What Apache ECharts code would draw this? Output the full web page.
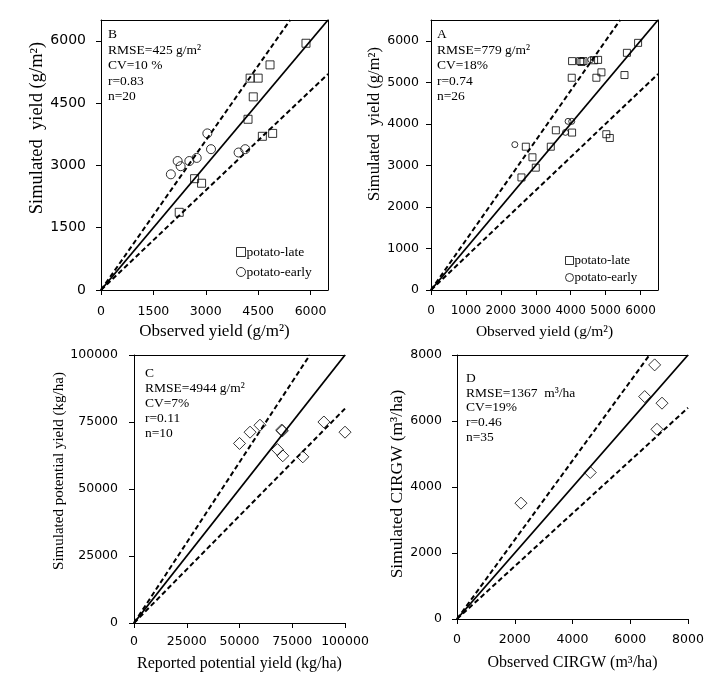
<!DOCTYPE html>
<html>
<head>
<meta charset="utf-8">
<script src="https://cdn.jsdelivr.net/npm/echarts@6/dist/echarts.min.js"></script>
<style>html,body{margin:0;padding:0;background:#fff;}#c{width:727px;height:678px;}</style>
</head>
<body>
<div id="c"></div>
<script>
// ---- Panel B ----
const bLateObs = [5870, 4840, 4270, 4500, 4360, 4210, 4915, 4620, 2680, 2880, 2240];
const bLateSim = [5940, 5420, 5100, 5100, 4650, 4110, 3770, 3700, 2680, 2570, 1870];
const bEarlyObs = [3045, 3150, 3940, 4130, 2740, 2530, 2195, 2280, 2000];
const bEarlySim = [3770, 3390, 3310, 3390, 3180, 3105, 3105, 2980, 2785];
// ---- Panel A ----
const aLateObs = [5930, 5610, 5540, 4880, 4735, 4030, 4040, 4270, 4310, 4365, 4670, 4785, 3575, 4040, 5020, 5120, 3430, 2715, 2905, 3000, 2590];
const aLateSim = [5950, 5710, 5175, 5240, 5110, 5110, 5510, 5510, 5490, 5510, 5530, 5540, 3845, 3790, 3750, 3660, 3450, 3450, 3195, 2945, 2710];
const aEarlyObs = [2400, 3850, 3925, 4030, 4575];
const aEarlySim = [3500, 3795, 4060, 4060, 5545];
// ---- Panel C ----
const cObs = [50000, 55000, 59700, 70000, 70300, 68000, 70500, 80000, 90000, 100000];
const cSim = [67000, 71200, 73800, 72000, 71700, 64700, 62400, 62000, 75000, 71200];
// ---- Panel D ----
const dObs = [6845, 6500, 7100, 6925, 4615, 2215];
const dSim = [7700, 6740, 6540, 5750, 4440, 3510];
// ---- reference lines (1:1 and ±20%) ----
const abLine11 = [[0, 0], [6500, 6500]];
const abUpper = [[0, 0], [5417, 6500]];
const abLower = [[0, 0], [6500, 5200]];
const cLine11 = [[0, 0], [100000, 100000]];
const cUpper = [[0, 0], [83333, 100000]];
const cLower = [[0, 0], [100000, 80000]];
const dLine11 = [[0, 0], [8000, 8000]];
const dUpper = [[0, 0], [6667, 8000]];
const dLower = [[0, 0], [8000, 6400]];
// ---- texts ----
const bNote = ['B', 'RMSE=425 g/m²', 'CV=10 %', 'r=0.83', 'n=20'];
const aNote = ['A', 'RMSE=779 g/m²', 'CV=18%', 'r=0.74', 'n=26'];
const cNote = ['C', 'RMSE=4944 g/m²', 'CV=7%', 'r=0.11', 'n=10'];
const dNote = ['D', 'RMSE=1367  m³/ha', 'CV=19%', 'r=0.46', 'n=35'];
const legendNames = ['potato-late', 'potato-early'];

const zip = (a, b) => a.map((v, i) => [v, b[i]]);
const SERIF = '"Liberation Serif", "Times New Roman", serif';
const SANS = '"DejaVu Sans", sans-serif';

function xAx(grid, max, interval, name, gap, nameSize, labSize, margin) {
  return {
    type: 'value', gridIndex: grid, min: 0, max: max, interval: interval,
    name: name, nameLocation: 'middle', nameGap: gap,
    nameTextStyle: { fontFamily: SERIF, fontSize: nameSize, color: '#000' },
    axisLine: { show: true, onZero: false, lineStyle: { color: '#000', width: 1 } },
    axisTick: { show: true, inside: false, length: 5, lineStyle: { color: '#000' } },
    axisLabel: { show: true, margin: margin, showMaxLabel: max % interval === 0,
      formatter: v => String(v), fontFamily: SANS, fontSize: labSize, color: '#000' },
    splitLine: { show: false }
  };
}
function yAx(grid, max, interval, name, gap, nameSize, shiftUp, labSize, margin) {
  return {
    type: 'value', gridIndex: grid, min: 0, max: max, interval: interval,
    name: name, nameLocation: 'middle', nameGap: gap,
    nameTextStyle: { fontFamily: SERIF, fontSize: nameSize, color: '#000', padding: [0, 0, 0, 2 * shiftUp] },
    axisLine: { show: true, onZero: false, lineStyle: { color: '#000', width: 1 } },
    axisTick: { show: true, inside: false, length: 5, lineStyle: { color: '#000' } },
    axisLabel: { show: true, margin: margin, showMaxLabel: max % interval === 0,
      formatter: v => String(v), fontFamily: SANS, fontSize: labSize, color: '#000' },
    splitLine: { show: false }
  };
}
function borderAx(grid, max, pos) {
  return {
    type: 'value', gridIndex: grid, min: 0, max: max, position: pos,
    axisLine: { show: true, onZero: false, lineStyle: { color: '#000', width: 1 } },
    axisTick: { show: false }, axisLabel: { show: false }, splitLine: { show: false }
  };
}
const hollow = { color: 'rgba(0,0,0,0)', borderColor: '#000', borderWidth: 1 };
function lines(xi, yi, l11, up, lo) {
  return [
    { type: 'line', xAxisIndex: xi, yAxisIndex: yi, data: l11, showSymbol: false, silent: true,
      lineStyle: { color: '#000', width: 1.8, type: 'solid' }, z: 1 },
    { type: 'line', xAxisIndex: xi, yAxisIndex: yi, data: up, showSymbol: false, silent: true,
      lineStyle: { color: '#000', width: 2, type: [5, 3] }, z: 1 },
    { type: 'line', xAxisIndex: xi, yAxisIndex: yi, data: lo, showSymbol: false, silent: true,
      lineStyle: { color: '#000', width: 2, type: [5, 3] }, z: 1 }
  ];
}
function note(lines, x, y, lh) {
  return { type: 'text', x: x, y: y, z: 10,
    style: { text: lines.join('\n'), font: '13.5px ' + SERIF, fill: '#000', lineHeight: lh } };
}
function legend(left, top, size, gap, fontSize) {
  return { orient: 'vertical', left: left, top: top, itemWidth: size, itemHeight: size, itemGap: gap,
    textStyle: { fontFamily: SERIF, fontSize: fontSize, color: '#000', padding: [0, 0, 0, -4] },
    data: [
      { name: legendNames[0], icon: 'rect', itemStyle: hollow },
      { name: legendNames[1], icon: 'circle', itemStyle: hollow }
    ] };
}

const option = {
  animation: false,
  backgroundColor: '#fff',
  grid: [
    { left: 101, top: 20, width: 227, height: 270 },
    { left: 431, top: 20, width: 227, height: 270 },
    { left: 134, top: 355, width: 211, height: 268 },
    { left: 457, top: 355, width: 231, height: 264 }
  ],
  xAxis: [
    xAx(0, 6500, 1500, 'Observed yield (g/m²)', 33, 17, 12.5, 15),
    xAx(1, 6500, 1000, 'Observed yield (g/m²)', 34, 15.5, 12, 15),
    xAx(2, 100000, 25000, 'Reported potential yield (kg/ha)', 33, 16, 12.5, 12),
    xAx(3, 8000, 2000, 'Observed CIRGW (m³/ha)', 36, 16, 12.5, 14),
    borderAx(0, 6500, 'top'),
    borderAx(1, 6500, 'top'),
    borderAx(2, 100000, 'top'),
    borderAx(3, 8000, 'top')
  ],
  yAxis: [
    yAx(0, 6500, 1500, 'Simulated  yield (g/m²)', 52, 18.5, 27, 14, 15),
    yAx(1, 6500, 1000, 'Simulated  yield (g/m²)', 43, 16.5, 31, 12.5, 12),
    yAx(2, 100000, 25000, 'Simulated potential yield (kg/ha)', 61, 15, 18, 12.5, 16),
    yAx(3, 8000, 2000, 'Simulated CIRGW (m³/ha)', 47, 17.4, 3, 12.5, 15),
    borderAx(0, 6500, 'right'),
    borderAx(1, 6500, 'right')
  ],
  legend: [
    legend(231, 240, 9, 6, 13.5),
    legend(560, 249, 8, 4, 13)
  ],
  series: [
    ...lines(0, 0, abLine11, abUpper, abLower),
    ...lines(1, 1, abLine11, abUpper, abLower),
    ...lines(2, 2, cLine11, cUpper, cLower),
    ...lines(3, 3, dLine11, dUpper, dLower),
    { name: legendNames[0], type: 'scatter', xAxisIndex: 0, yAxisIndex: 0, symbol: 'rect', symbolSize: 8,
      data: zip(bLateObs, bLateSim), itemStyle: hollow, z: 5 },
    { name: legendNames[1], type: 'scatter', xAxisIndex: 0, yAxisIndex: 0, symbol: 'circle', symbolSize: 9,
      data: zip(bEarlyObs, bEarlySim), itemStyle: hollow, z: 5 },
    { name: legendNames[0], type: 'scatter', xAxisIndex: 1, yAxisIndex: 1, symbol: 'rect', symbolSize: 7,
      data: zip(aLateObs, aLateSim), itemStyle: hollow, z: 5 },
    { name: legendNames[1], type: 'scatter', xAxisIndex: 1, yAxisIndex: 1, symbol: 'circle', symbolSize: 6,
      data: zip(aEarlyObs, aEarlySim), itemStyle: hollow, z: 5 },
    { name: 'C', type: 'scatter', xAxisIndex: 2, yAxisIndex: 2, symbol: 'diamond', symbolSize: 12,
      data: zip(cObs, cSim), itemStyle: hollow, z: 5 },
    { name: 'D', type: 'scatter', xAxisIndex: 3, yAxisIndex: 3, symbol: 'diamond', symbolSize: 12,
      data: zip(dObs, dSim), itemStyle: hollow, z: 5 }
  ],
  graphic: [
    note(bNote, 108, 27, 15.5),
    note(aNote, 437, 27, 15.5),
    note(cNote, 145, 366, 15),
    note(dNote, 466, 371, 14.7)
  ]
};
const chart = echarts.init(document.getElementById('c'), null, { renderer: 'canvas' });
chart.setOption(option);
</script>
</body>
</html>
